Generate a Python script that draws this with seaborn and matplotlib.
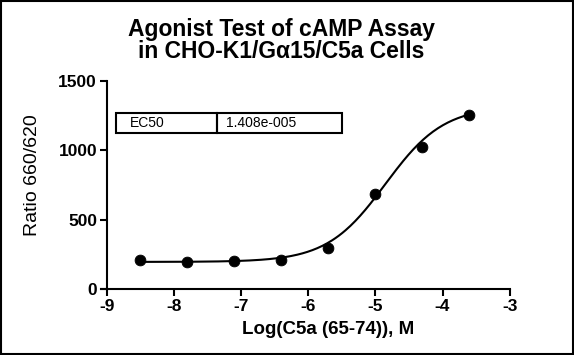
import numpy as np
import pandas as pd
import seaborn as sns
import matplotlib.pyplot as plt
from matplotlib.patches import Rectangle

# measured points
log_conc = [-8.5, -7.8, -7.1, -6.4, -5.7, -5.0, -4.3, -3.6]
ratio = [208, 195, 202, 207, 293, 685, 1026, 1257]

# four-parameter fit reported by the assay
bottom = 195
top = 1318
ec50 = 1.408e-5
hill = 1.0

x_ticks = [-9, -8, -7, -6, -5, -4, -3]
y_ticks = [0, 500, 1000, 1500]

sns.set_style("ticks", {"text.color": "black", "axes.labelcolor": "black",
                        "xtick.color": "black", "ytick.color": "black",
                        "axes.edgecolor": "black"})
plt.rcParams['font.family'] = ['Liberation Sans', 'DejaVu Sans']

pts = pd.DataFrame({"x": log_conc, "y": ratio})
xf = np.linspace(min(log_conc), max(log_conc), 200)
fit = pd.DataFrame({"x": xf,
                    "y": bottom + (top - bottom) / (1 + 10 ** ((np.log10(ec50) - xf) * hill))})

fig = plt.figure(figsize=(5.74, 3.55), dpi=100)
ax = fig.add_axes([0.186, 0.186, 0.702, 0.586])

sns.lineplot(data=fit, x="x", y="y", ax=ax, color="black", linewidth=1.5)
sns.scatterplot(data=pts, x="x", y="y", ax=ax, color="black", s=60, edgecolor="black", zorder=3)

ax.set_xlim(-9, -3)
ax.set_ylim(0, 1500)
ax.set_xticks(x_ticks)
ax.set_yticks(y_ticks)
ax.set_xticklabels([str(t) for t in x_ticks], fontweight="bold", fontsize=12.5)
ax.set_yticklabels([str(t) for t in y_ticks], fontweight="bold", fontsize=12.5)
ax.tick_params(width=1.5, length=5, pad=2)
for s in ["left", "bottom"]:
    ax.spines[s].set_linewidth(1.5)
sns.despine(ax=ax)
ax.spines["bottom"].set_bounds(-9.08, -3)

ax.set_xlabel("Log(C5a (65-74)), M", fontweight="bold", fontsize=13.5)
ax.xaxis.set_label_coords(0.55, -0.152)
ax.set_ylabel("Ratio 660/620", fontsize=14)
ax.yaxis.set_label_coords(-0.163, 0.548)

# EC50 table
ax.add_patch(Rectangle((-8.86, 1125), 1.5, 144, fill=False, lw=1.5,
                       edgecolor="black", clip_on=False))
ax.add_patch(Rectangle((-7.36, 1125), 1.87, 144, fill=False, lw=1.5,
                       edgecolor="black", clip_on=False))
ax.text(-8.65, 1197, "EC50", va="center", ha="left", fontsize=10)
ax.text(-7.23, 1197, f"{ec50:.3e}".replace("e-0", "e-00"), va="center", ha="left", fontsize=10)

fig.text(0.49, 0.885, "Agonist Test of cAMP Assay\nin CHO-K1/G\u03b115/C5a Cells",
         ha="center", va="center", fontsize=16.5, fontweight="bold", linespacing=0.95)

fig.add_artist(Rectangle((0.002, 0.003), 0.996, 0.994, transform=fig.transFigure,
                         fill=False, lw=1.5, edgecolor="black"))

fig.savefig("out.png", dpi=100)
